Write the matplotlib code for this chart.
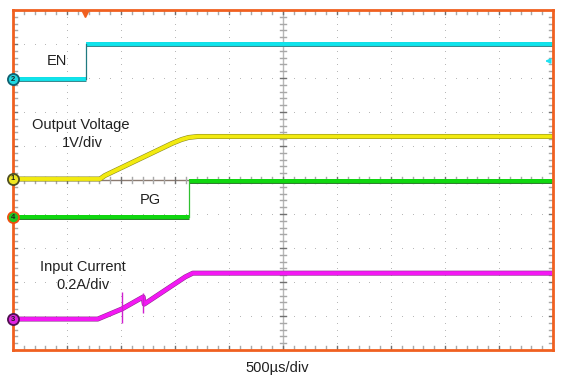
import matplotlib
matplotlib.use('Agg')
import matplotlib.pyplot as plt
import matplotlib.patheffects as pe
import numpy as np

plt.rcParams['font.family'] = ['Liberation Sans', 'DejaVu Sans']

# waveforms, in screen divisions (x: 0..10, y: 0..10 from bottom)
en_t = [0, 1.35, 1.35, 10]
en_v = [7.97, 7.97, 9.0, 9.0]

vout_t = [0, 1.61, 1.70, 2.95, 3.12, 3.25, 3.42, 10]
vout_v = [5.03, 5.03, 5.13, 6.08, 6.19, 6.25, 6.28, 6.28]

pg_t = [0, 3.26, 3.26, 10]
pg_v = [3.91, 3.91, 4.97, 4.97]

iin_t = [0, 1.57, 2.02, 2.41, 2.43, 3.19, 3.33, 10]
iin_v = [0.91, 0.91, 1.21, 1.56, 1.35, 2.15, 2.26, 2.26]

# current spikes: time, min, max
spike_t = [2.02, 2.41]
spike_lo = [0.79, 1.09]
spike_hi = [1.71, 1.68]

labels = [("EN", 0.81, 8.5), ("Output Voltage", 1.26, 6.62), ("1V/div", 1.28, 6.08),
          ("PG", 2.54, 4.41), ("Input Current", 1.30, 2.44), ("0.2A/div", 1.30, 1.91)]

markers = [("2", 7.97, '#20d8e0', '#106070'), ("1", 5.03, '#f0e820', '#505020'),
           ("4", 3.91, '#20c820', '#f05010'), ("3", 0.91, '#e020e0', '#501050')]

frame = '#f06020'
W, H = 563, 379
fig = plt.figure(figsize=(W / 100, H / 100), dpi=100)
ax = fig.add_axes([13 / W, (H - 350) / H, 540 / W, 340 / H])
ax.set_xlim(0, 10)
ax.set_ylim(0, 10)
ax.set_xticks([])
ax.set_yticks([])
for s in ax.spines.values():
    s.set_color(frame)
    s.set_linewidth(2)
    s.set_zorder(5)

# dotted graticule
for i in range(1, 10):
    ys = np.arange(0.2, 10, 0.2)
    ax.plot(np.full_like(ys, i), ys, ls='none', marker='s', ms=0.7, mew=0,
            color='#b8b8b8', zorder=1)
    xs = np.arange(0.2, 10, 0.2)
    ax.plot(xs, np.full_like(xs, i), ls='none', marker='s', ms=0.7, mew=0,
            color='#b8b8b8', zorder=1)

# center crosshair with minor ticks
ax.axvline(5, color='#b8b8b8', lw=1, zorder=1)
ax.axhline(5, color='#8a7a70', lw=1, zorder=1)
for k in np.arange(0.2, 10, 0.2):
    major = abs(k - round(k)) < 1e-6
    c = '#707070' if major else '#a8a8a8'
    ax.plot([5 - 0.06, 5 + 0.06], [k, k], color=c, lw=1, zorder=1)
    ax.plot([k, k], [5 - 0.1, 5 + 0.1], color=c, lw=1, zorder=1)
    # edge ticks
    ax.plot([0, 0.08], [k, k], color=c, lw=1, zorder=1)
    ax.plot([10 - 0.08, 10], [k, k], color=c, lw=1, zorder=1)
    ax.plot([k, k], [0, 0.12], color=c, lw=1, zorder=1)
    ax.plot([k, k], [10 - 0.12, 10], color=c, lw=1, zorder=1)

def trace(t, v, col, edge):
    ax.plot(t, v, color=col, lw=2.8, zorder=3, solid_capstyle='butt',
            path_effects=[pe.Stroke(linewidth=3.6, foreground=edge), pe.Normal()])

def step_trace(t, v, col, edge, thin):
    trace(t[:2], v[:2], col, edge)
    trace(t[2:], v[2:], col, edge)
    ax.plot(t[1:3], v[1:3], color=thin, lw=0.9, zorder=3)

step_trace(en_t, en_v, '#10e4ec', '#3a8a90', '#207a80')
trace(vout_t, vout_v, '#f2ea10', '#8a8a20')
step_trace(pg_t, pg_v, '#10d810', '#308030', '#30c030')
trace(iin_t, iin_v, '#f418f4', '#903090')
ax.vlines(spike_t, spike_lo, spike_hi, color='#d020d0', lw=1.0, zorder=4)

for txt, x, y in labels:
    ax.text(x, y, txt, fontsize=10.5, ha='center', va='center', color='#202020')

for num, y, fc, ec in markers:
    ax.plot([0], [y], marker='o', ms=8, mfc=fc, mec=ec, mew=1.3, clip_on=False, zorder=6)
    ax.text(0, y, num, fontsize=5.5, ha='center', va='center', color='#202020', zorder=7,
            fontweight='bold')

# trigger markers
ax.plot([1.33], [9.88], marker='v', ms=5, color=frame, clip_on=False, zorder=6)
ax.annotate('', xy=(9.8, 8.5), xytext=(10.0, 8.5),
            arrowprops=dict(arrowstyle='-|>', color='#20e0f0', lw=1.2, mutation_scale=7))

fig.text(277 / W, 1 - 368 / H, "500\u00b5s/div", fontsize=10.5, ha='center', va='center',
         color='#202020')

fig.savefig('out.png', dpi=100)
